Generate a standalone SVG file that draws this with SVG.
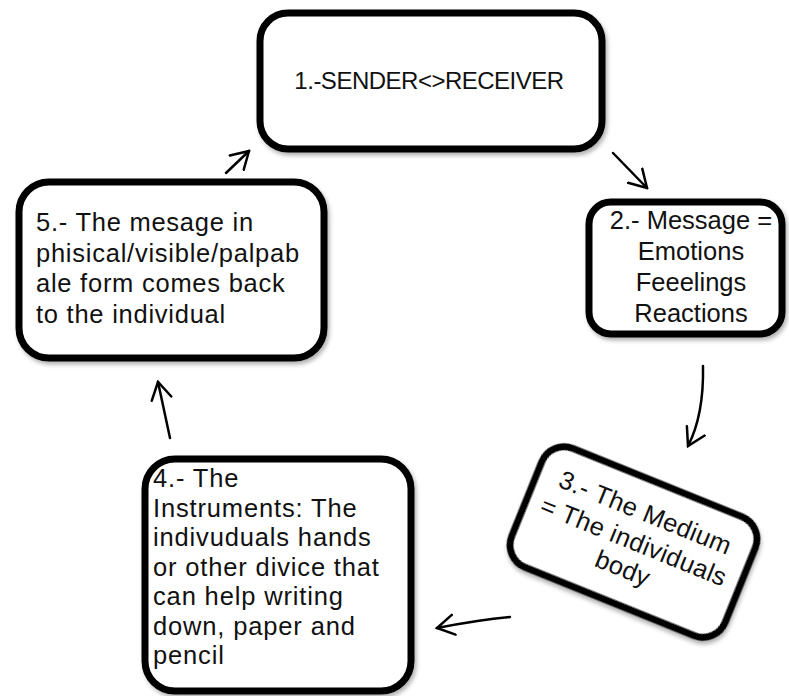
<svg xmlns="http://www.w3.org/2000/svg" width="789" height="696" viewBox="0 0 789 696">
<style>
.box{fill:#fff;stroke:#000;stroke-width:7;filter:url(#sh)}
.t{font-family:"Liberation Sans",Arial,sans-serif;font-size:25.5px;fill:#111}
.s1{font-size:24px;letter-spacing:-0.5px}
.s3{letter-spacing:0.4px}
.s4{letter-spacing:0.85px}
.s5{letter-spacing:0.75px}
.c{text-anchor:middle}
.a{fill:none;stroke:#000;stroke-width:2.5;stroke-linecap:round;marker-end:url(#ah)}
</style>
<defs>
<filter id="sh" x="-10%" y="-10%" width="130%" height="130%">
<feDropShadow dx="2" dy="3" stdDeviation="2" flood-color="#000" flood-opacity="0.3"/>
</filter>
<marker id="ah" markerUnits="userSpaceOnUse" viewBox="-1 -12 20 24" refX="17" refY="0" markerWidth="20" markerHeight="24" orient="auto">
<path d="M0,-10 L17,0 L0,10" fill="none" stroke="#000" stroke-width="2.5" stroke-linecap="round" stroke-linejoin="miter"/>
</marker>
</defs>
<g id="connectors">
<path class="a" d="M613,153 L647,188"/>
<path class="a" d="M703,366 Q704,415 688,446"/>
<path class="a" d="M510,617 Q478,620 437,628"/>
<path class="a" d="M170,438 L158,382"/>
<path class="a" d="M226,173 L249,151"/>
</g>
<g id="node1">
<rect class="box" x="260" y="13" width="342" height="136" rx="28"/>
<text class="t c s1" x="429" y="89">1.-SENDER&lt;&gt;RECEIVER</text>
</g>
<g id="node2">
<rect class="box" x="589" y="202" width="193" height="132" rx="22"/>
<text class="t c" x="691" y="229">2.- Message =</text>
<text class="t c" x="691" y="260">Emotions</text>
<text class="t c" x="691" y="291">Feeelings</text>
<text class="t c" x="691" y="322">Reactions</text>
</g>
<g id="node3" transform="translate(633.5,542) rotate(22)">
<rect class="box" x="-115" y="-64" width="230" height="128" rx="24"/>
<text class="t c s3" x="0" y="-23">3.- The Medium</text>
<text class="t c s3" x="0" y="8">= The individuals</text>
<text class="t c s3" x="0" y="37">body</text>
</g>
<g id="node4">
<rect class="box" x="145" y="459" width="266" height="232" rx="30"/>
<text class="t s4" x="153" y="487">4.- The</text>
<text class="t s4" x="153" y="516.5">Instruments:  The</text>
<text class="t s4" x="153" y="546">indivuduals hands</text>
<text class="t s4" x="153" y="575.5">or other divice that</text>
<text class="t s4" x="153" y="605">can help writing</text>
<text class="t s4" x="153" y="634.5">down, paper and</text>
<text class="t s4" x="153" y="664">pencil</text>
</g>
<g id="node5">
<rect class="box" x="19" y="182" width="305" height="176" rx="30"/>
<text class="t s5" x="36" y="231">5.- The mesage in</text>
<text class="t s5" x="36" y="261.5">phisical/visible/palpab</text>
<text class="t s5" x="36" y="292">ale form comes back</text>
<text class="t s5" x="36" y="322.5">to the individual</text>
</g>
</svg>
